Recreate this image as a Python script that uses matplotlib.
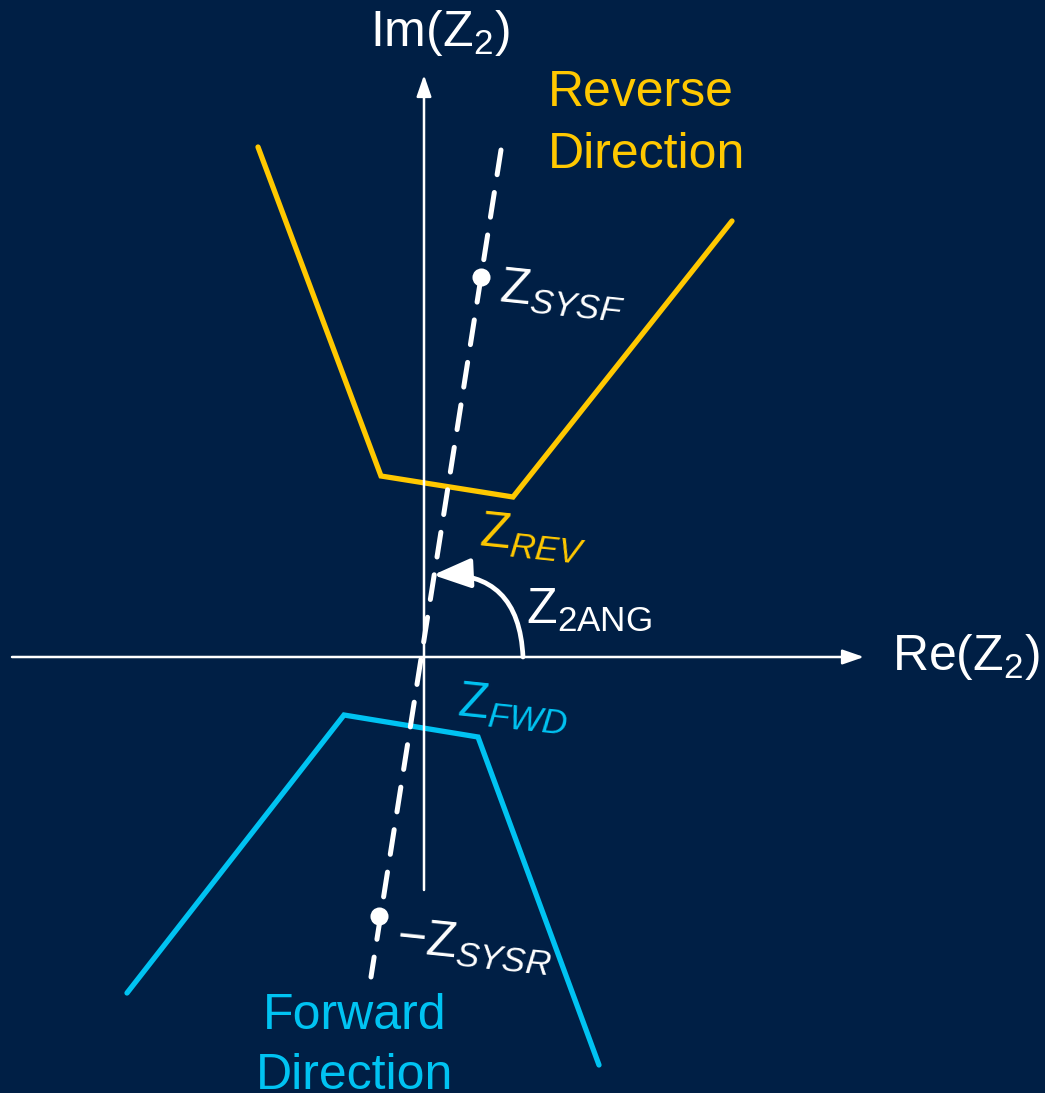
import matplotlib
matplotlib.use('agg')
import matplotlib.pyplot as plt
from matplotlib.patches import FancyArrowPatch

plt.rcParams['font.family'] = ['Liberation Sans', 'DejaVu Sans']
plt.rcParams['mathtext.fontset'] = 'custom'
plt.rcParams['mathtext.rm'] = 'Liberation Sans'
plt.rcParams['mathtext.it'] = 'Liberation Sans:italic'
plt.rcParams['mathtext.sf'] = 'Liberation Sans'

BG = '#001f45'
YEL = '#ffc800'
CYA = '#00c3f2'

# impedance plane characteristics (screen coords, y down)
rev_x = [258, 381, 513, 732]
rev_y = [147, 476, 497, 221]
fwd_x = [127, 344, 478, 599]
fwd_y = [993, 715, 737, 1065]
# system impedance line and its two points
sys_x = [501, 371]
sys_y = [150, 977]
pts_x = [481, 379]
pts_y = [277, 916]
origin = (424, 657)

fig = plt.figure(figsize=(10.45, 10.93), dpi=100, facecolor=BG)
ax = fig.add_axes([0, 0, 1, 1])
ax.set_facecolor(BG)
ax.set_xlim(0, 1045)
ax.set_ylim(1093, 0)
ax.axis('off')

# axes with arrow heads
ax.annotate('', xy=(864, origin[1]), xytext=(12, origin[1]),
            arrowprops=dict(arrowstyle='-|>,head_length=1.3,head_width=0.45',
                            color='white', lw=1.8, shrinkA=0, shrinkB=0))
ax.annotate('', xy=(origin[0], 75), xytext=(origin[0], 890),
            arrowprops=dict(arrowstyle='-|>,head_length=1.3,head_width=0.45',
                            color='white', lw=1.8, shrinkA=0, shrinkB=0))

ax.plot(rev_x, rev_y, color=YEL, lw=3.8, solid_capstyle='round', solid_joinstyle='miter')
ax.plot(fwd_x, fwd_y, color=CYA, lw=3.8, solid_capstyle='round', solid_joinstyle='miter')

ax.plot(sys_x, sys_y, color='white', lw=3.6, linestyle=(0, (5.0, 3.6)),
        dash_capstyle='round')
ax.plot(pts_x, pts_y, 'o', color='white', ms=13, mec='none')

# angle arc
arc = FancyArrowPatch((523, 657), (433, 575), connectionstyle='arc3,rad=0.5',
                      arrowstyle='-|>,head_length=23,head_width=9',
                      color='white', lw=3.4, shrinkA=0, shrinkB=0,
                      mutation_scale=1)
ax.add_patch(arc)

fs = 36
ax.text(440, 33, r'Im(Z$_\mathrm{2}$)', color='white', fontsize=fs, ha='center', va='center')
ax.text(892, 657, r'Re(Z$_\mathrm{2}$)', color='white', fontsize=fs, ha='left', va='center')
ax.text(548, 124, 'Reverse\nDirection', color=YEL, fontsize=fs, ha='left', va='center',
        linespacing=1.42)
ax.text(355, 1046, 'Forward\nDirection', color=CYA, fontsize=fs, ha='center', va='center',
        linespacing=1.38)

ax.text(498, 302, r'Z$_{\mathit{SYSF}}$', color='white', fontsize=fs, rotation=-6,
        rotation_mode='anchor', ha='left', va='baseline')
ax.text(478, 546, r'Z$_{\mathit{REV}}$', color=YEL, fontsize=fs, rotation=-6,
        rotation_mode='anchor', ha='left', va='baseline')
ax.text(456, 716, r'Z$_{\mathit{FWD}}$', color=CYA, fontsize=fs, rotation=-6,
        rotation_mode='anchor', ha='left', va='baseline')
ax.text(395, 952, r'$-$Z$_{\mathit{SYSR}}$', color='white', fontsize=fs, rotation=-6,
        rotation_mode='anchor', ha='left', va='baseline')
ax.text(526, 624, r'Z$_\mathrm{2ANG}$', color='white', fontsize=fs, ha='left', va='baseline')

fig.savefig('out.png', dpi=100, facecolor=BG)
